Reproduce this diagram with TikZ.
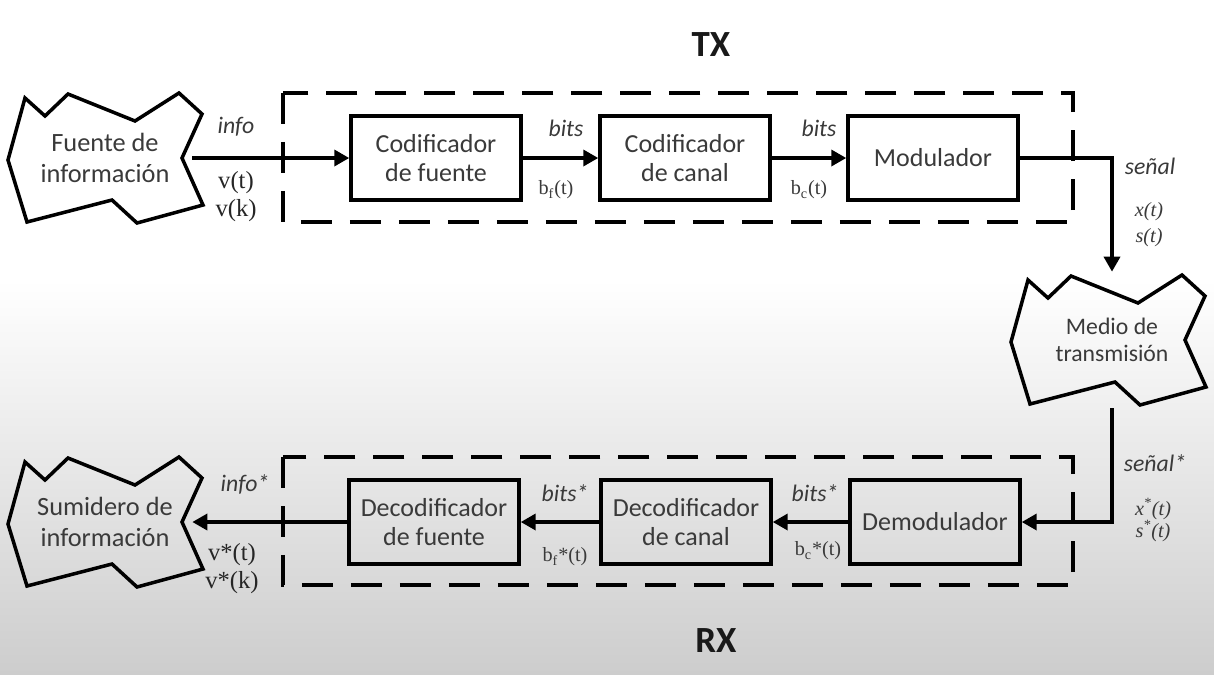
\documentclass[tikz,border=0pt]{standalone}
\usepackage{fontspec}
\setmainfont{Carlito}
\newfontfamily\serifl{Liberation Serif}
\usetikzlibrary{arrows.meta}
\definecolor{txt}{RGB}{58,58,58}
\definecolor{bgbot}{RGB}{205,205,205}
\tikzset{
  blk/.style={draw=black, line width=2pt, minimum width=3.4cm, minimum height=1.68cm,
    text=txt, font=\fontsize{14.8}{17}\selectfont, align=center, inner sep=0pt},
  blobtxt/.style={minimum width=3.48cm, minimum height=2.4cm, inner sep=0pt, text=txt,
    font=\fontsize{15}{18}\selectfont, align=center},
  blobline/.style={draw=black, line width=2pt, line join=miter},
  arr/.style={line width=2pt, -{Triangle[length=0.3cm,width=0.32cm]}},
  dashbox/.style={draw=black, line width=2pt, dash pattern=on 0.62cm off 0.36cm},
  lab/.style={text=txt, font=\fontsize{13.5}{16}\selectfont\itshape},
  ser/.style={text=black!85, font=\serifl\fontsize{14}{16}\selectfont},
  sers/.style={text=txt, font=\serifl\fontsize{11.5}{14}\selectfont},
  sersi/.style={text=txt, font=\serifl\fontsize{11.5}{14}\selectfont\itshape},
  title/.style={text=black!90, font=\fontsize{21}{24}\selectfont\bfseries}
}
\newcommand\blobdraw[2][0]{\draw[blobline, shift={(#2.center)}, xshift=#1*0.02cm]
  (-80,-60) -- (-60,-42) -- (-37,-64) -- (30,-37) -- (74,-65) -- (97,-44) -- (77,0)
  -- (98,47) -- (32,65) -- (7,42) -- (-78,64) -- (-97,2) -- cycle;}
\begin{document}
\begin{tikzpicture}[x=0.02cm, y=-0.02cm]
  % background
  \fill[white] (0,0) rectangle (1214,674);
  \shade[top color=white, bottom color=bgbot] (0,280) rectangle (1214,674);
  \useasboundingbox (0,0) rectangle (1214,674);

  % titles
  \node[title] (tx) at (711,45) {TX};
  \node[title] (rx) at (716,641) {RX};

  % dashed frames
  \draw[dashbox] (283,93) rectangle (1073,222);
  \draw[dashbox] (283,457) rectangle (1073,585);

  % blobs
  \node[blobtxt] (fuente) at (105,158) {Fuente de\\información};
  \blobdraw{fuente}
  \node[blobtxt] (sum) at (105,522) {Sumidero de\\información};
  \blobdraw{sum}
  \node[blobtxt, minimum width=3cm, minimum height=2.72cm,
        font=\fontsize{13.5}{15.5}\selectfont] (medio) at (1112,340) {Medio de\\transmisión};
  \blobdraw[-4]{medio}

  % TX blocks
  \node[blk] (cf) at (436,158) {Codificador\\de fuente};
  \node[blk] (cc) at (685,158) {Codificador\\de canal};
  \node[blk] (mod) at (933,158) {Modulador};

  % RX blocks
  \node[blk] (df) at (434,522) {Decodificador\\de fuente};
  \node[blk] (dc) at (686,522) {Decodificador\\de canal};
  \node[blk] (demod) at (935,522) {Demodulador};

  % connectors
  \draw[arr] (fuente.east) -- (cf.west);
  \draw[arr] (cf.east) -- (cc.west);
  \draw[arr] (cc.east) -- (mod.west);
  \draw[arr] (mod.east) -| (medio.north);
  \draw[arr] (medio.south) |- (demod.east);
  \draw[arr] (demod.west) -- (dc.east);
  \draw[arr] (dc.west) -- (df.east);
  \draw[arr] (df.west) -- (sum.east);

  % labels TX
  \node[lab] (l1) at (236,127) {info};
  \node[ser] (l2) at (236,183) {v(t)};
  \node[ser] (l3) at (236,211) {v(k)};
  \node[lab] (l4) at (566,128) {bits};
  \node[sers] (l5) at (556,190) {b\textsubscript{f}(t)};
  \node[lab] (l6) at (819,128) {bits};
  \node[sers] (l7) at (809,190) {b\textsubscript{c}(t)};
  \node[lab] (l8) at (1150,166) {señal};
  \node[sersi] (l9) at (1149,212) {x(t)};
  \node[sersi] (l10) at (1149,238) {s(t)};

  % labels RX
  \node[lab] (m1) at (1155,463) {señal*};
  \node[sersi] (m2) at (1153,509) {x\textsuperscript{*}(t)};
  \node[sersi] (m3) at (1153,531) {s\textsuperscript{*}(t)};
  \node[lab] (m4) at (815,493) {bits*};
  \node[sers] (m5) at (818,551) {b\textsubscript{c}*(t)};
  \node[lab] (m6) at (565,493) {bits*};
  \node[sers] (m7) at (565,557) {b\textsubscript{f}*(t)};
  \node[lab] (m8) at (245,484) {info*};
  \node[ser] (m9) at (232,555) {v*(t)};
  \node[ser] (m10) at (232,583) {v*(k)};
\end{tikzpicture}
\end{document}
